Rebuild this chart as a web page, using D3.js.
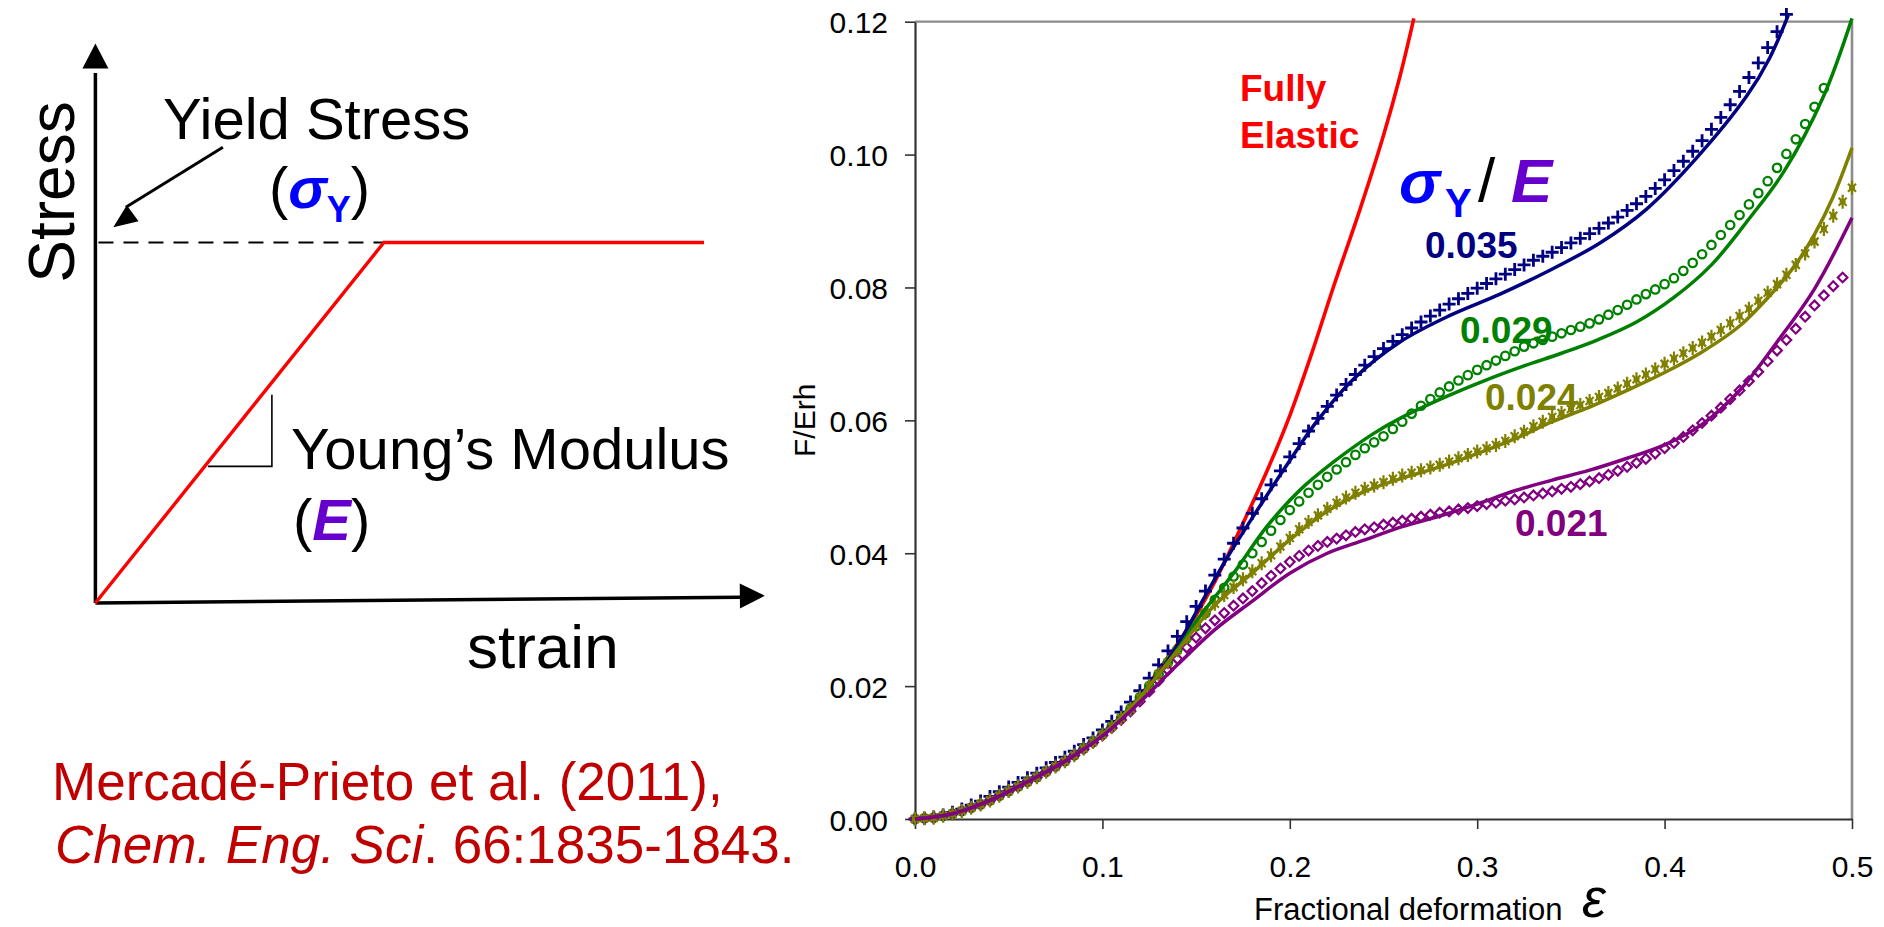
<!DOCTYPE html>
<html><head><meta charset="utf-8">
<script src="https://cdn.jsdelivr.net/npm/d3@7"></script>
<style>
body{margin:0;background:#fff;}
svg{display:block;}
text{font-family:"Liberation Sans",Arial,sans-serif;}
</style>
</head><body>
<svg id="c" width="1884" height="927"></svg>
<script>
// ---------- Right chart data ----------
const xTicks = [0, 0.1, 0.2, 0.3, 0.4, 0.5];
const yTicks = [0, 0.02, 0.04, 0.06, 0.08, 0.10, 0.12];

// strain grid for measured (marker) series
const gridStrain = [0,0.005,0.01,0.015,0.02,0.025,0.03,0.035,0.04,0.045,0.05,0.055,0.06,0.065,0.07,0.075,0.08,0.085,0.09,0.095,0.1,0.105,0.11,0.115,0.12,0.125,0.13,0.135,0.14,0.145,0.15,0.155,0.16,0.165,0.17,0.175,0.18,0.185,0.19,0.195,0.2,0.205,0.21,0.215,0.22,0.225,0.23,0.235,0.24,0.245,0.25,0.255,0.26,0.265,0.27,0.275,0.28,0.285,0.29,0.295,0.3,0.305,0.31,0.315,0.32,0.325,0.33,0.335,0.34,0.345,0.35,0.355,0.36,0.365,0.37,0.375,0.38,0.385,0.39,0.395,0.4,0.405,0.41,0.415,0.42,0.425,0.43,0.435,0.44,0.445,0.45,0.455,0.46,0.465,0.47,0.475,0.48,0.485,0.49,0.495,0.5];

// measured F/Erh (markers)
const data035 = [0,.0001,.0003,.0006,.0010,.0015,.0021,.0027,.0034,.0041,.0048,.0055,.0062,.0069,.0077,.0085,.0093,.0102,.0112,.0122,.0134,.0147,.0161,.0176,.0193,.0212,.0232,.0253,.0275,.0297,.0320,.0343,.0367,.0391,.0415,.0438,.0460,.0482,.0503,.0524,.0545,.0565,.0584,.0603,.0621,.0638,.0654,.0669,.0683,.0696,.0708,.0719,.0729,.0739,.0748,.0757,.0766,.0775,.0783,.0791,.0799,.0806,.0813,.0820,.0827,.0834,.0841,.0847,.0853,.0860,.0867,.0874,.0881,.0889,.0897,.0906,.0916,.0926,.0937,.0949,.0962,.0976,.0990,.1005,.1021,.1038,.1056,.1075,.1095,.1116,.1138,.1161,.1185,.1211];
const data029 = [0,.0001,.0002,.0005,.0008,.0012,.0017,.0022,.0028,.0035,.0042,.0049,.0056,.0063,.0071,.0079,.0087,.0096,.0106,.0116,.0127,.0139,.0152,.0166,.0183,.0200,.0218,.0236,.0255,.0272,.0290,.0310,.0330,.0348,.0365,.0383,.0400,.0417,.0434,.0450,.0465,.0478,.0491,.0503,.0515,.0526,.0537,.0548,.0558,.0567,.0576,.0587,.0598,.0610,.0622,.0632,.0642,.0651,.0660,.0668,.0676,.0683,.0690,.0697,.0704,.0711,.0716,.0721,.0726,.0731,.0736,.0741,.0746,.0752,.0759,.0766,.0774,.0782,.0790,.0797,.0805,.0814,.0825,.0837,.0850,.0864,.0879,.0894,.0909,.0925,.0942,.0960,.0980,.1001,.1023,.1046,.1072,.1100];
const data024 = [0,.0001,.0002,.0005,.0008,.0012,.0017,.0022,.0028,.0035,.0042,.0049,.0056,.0063,.0071,.0079,.0087,.0096,.0106,.0116,.0127,.0139,.0152,.0166,.0183,.0200,.0218,.0236,.0254,.0273,.0292,.0310,.0324,.0337,.0349,.0361,.0373,.0385,.0397,.0410,.0423,.0436,.0447,.0457,.0467,.0476,.0484,.0491,.0497,.0502,.0507,.0512,.0517,.0521,.0525,.0529,.0533,.0538,.0543,.0548,.0553,.0558,.0563,.0569,.0576,.0583,.0591,.0598,.0605,.0611,.0617,.0623,.0629,.0635,.0641,.0648,.0655,.0662,.0669,.0677,.0685,.0693,.0701,.0709,.0717,.0726,.0736,.0746,.0757,.0768,.0780,.0792,.0805,.0819,.0834,.0851,.0869,.0888,.0908,.0929,.0950];
const data021 = [0,.0001,.0002,.0005,.0008,.0012,.0017,.0022,.0028,.0035,.0042,.0049,.0056,.0063,.0071,.0079,.0087,.0096,.0105,.0115,.0126,.0137,.0149,.0162,.0177,.0192,.0208,.0224,.0241,.0258,.0273,.0287,.0299,.0310,.0321,.0332,.0343,.0355,.0366,.0377,.0387,.0396,.0404,.0411,.0417,.0422,.0427,.0432,.0436,.0439,.0443,.0446,.0449,.0452,.0455,.0458,.0461,.0463,.0466,.0468,.0471,.0474,.0476,.0479,.0481,.0484,.0487,.0490,.0493,.0497,.0500,.0504,.0508,.0513,.0518,.0524,.0530,.0536,.0542,.0550,.0558,.0566,.0575,.0585,.0596,.0607,.0619,.0632,.0645,.0659,.0673,.0689,.0705,.0721,.0738,.0756,.0773,.0788,.0802,.0815];

// model curves (solid lines)
const elasticX = [0,.02,.04,.06,.08,.10,.12,.13,.145,.159,.1725,.1877,.2001,.2116,.2232,.2375,.2499,.2588,.2662];
const elasticY = [0,.0008,.0028,.0056,.0087,.0127,.0185,.0224,.0284,.0352,.0430,.0523,.0608,.0700,.0800,.0918,.1028,.1118,.1205];
const model035X = [0,.02,.04,.06,.08,.10,.12,.13,.1414,.1557,.1663,.1788,.2001,.2143,.2339,.2588,.2855,.3122,.3388,.3655,.3904,.4171,.4438,.456,.466];
const model035Y = [0,.0008,.0028,.0056,.0087,.0127,.0183,.0218,.0268,.0340,.0392,.0448,.0540,.0598,.0662,.0718,.0758,.0790,.0826,.0867,.0918,.0995,.1088,.1145,.1210];
const model029X = [0,.02,.04,.06,.08,.10,.12,.13,.14,.152,.17,.1877,.2054,.2232,.2446,.2588,.2837,.305,.325,.345,.365,.385,.405,.425,.445,.4638,.4847,.50];
const model029Y = [0,.0008,.0028,.0056,.0087,.0127,.0183,.0218,.0255,.0305,.0370,.0440,.0495,.0537,.0580,.0603,.0636,.0661,.0682,.0701,.0722,.0748,.0785,.0834,.0903,.0975,.1087,.1205];
const model024X = [0,.02,.04,.06,.08,.10,.12,.13,.14,.16,.18,.20,.22,.24,.26,.28,.30,.32,.34,.36,.38,.40,.42,.44,.46,.47,.48,.49,.50];
const model024Y = [0,.0008,.0028,.0056,.0087,.0127,.0183,.0218,.0253,.0322,.0370,.0420,.0463,.0493,.0513,.0530,.0550,.0572,.0598,.0620,.0645,.0672,.0703,.0742,.0800,.0835,.0880,.0937,.1010];
const model021X = [0,.02,.04,.06,.08,.10,.12,.14,.16,.18,.20,.22,.24,.26,.28,.30,.32,.34,.36,.38,.40,.42,.44,.46,.48,.50];
const model021Y = [0,.0008,.0028,.0056,.0087,.0125,.0176,.0232,.0285,.0328,.0370,.0400,.0420,.0440,.0456,.0474,.0494,.0510,.0525,.0543,.0563,.0594,.0645,.0718,.0798,.0905];

const seriesLabels = ["0.035", "0.029", "0.024", "0.021"];
const seriesColors = ["#000080", "#008000", "#808000", "#800080"];

// ---------- Left schematic data ----------
const schematicStrain = [0, 0.474, 1.0];
const schematicStress = [0, 1, 1];

const svg = d3.select("#c");
const FONT = '"Liberation Sans", Arial, sans-serif';

// ================= LEFT SCHEMATIC =================
const sx = d3.scaleLinear([0, 1], [95.4, 704]);
const sy = d3.scaleLinear([0, 1], [603, 242.5]);
const L = svg.append("g");

function arrowHead(g, x1, y1, x2, y2, len, half, color) {
  const a = Math.atan2(y2 - y1, x2 - x1);
  const bx = x2 - len * Math.cos(a), by = y2 - len * Math.sin(a);
  const px = -Math.sin(a) * half, py = Math.cos(a) * half;
  g.append("path")
    .attr("d", `M${x2},${y2}L${bx + px},${by + py}L${bx - px},${by - py}Z`)
    .attr("fill", color);
}
// y axis arrow
L.append("line").attr("x1", sx(0)).attr("y1", sy(0)).attr("x2", sx(0)).attr("y2", sy(1.47))
  .attr("stroke", "#000").attr("stroke-width", 3.5);
arrowHead(L, sx(0), sy(0), sx(0), sy(1.552), 25, 13, "#000");
// x axis arrow (slightly rising)
L.append("line").attr("x1", sx(0)).attr("y1", sy(0)).attr("x2", sx(1.06)).attr("y2", sy(0.016))
  .attr("stroke", "#000").attr("stroke-width", 3.5);
arrowHead(L, sx(0), sy(0), sx(1.1), sy(0.02), 25, 12.5, "#000");
// dashed yield line
L.append("line").attr("x1", sx(0.005)).attr("y1", sy(1)).attr("x2", sx(schematicStrain[1])).attr("y2", sy(1))
  .attr("stroke", "#000").attr("stroke-width", 2.2).attr("stroke-dasharray", "15,10");
// elastic-plastic red line
L.append("path")
  .attr("d", d3.line().x((d, i) => sx(d)).y((d, i) => sy(schematicStress[i]))(schematicStrain))
  .attr("fill", "none").attr("stroke", "#FF0000").attr("stroke-width", 3.4);
// slope triangle
L.append("path")
  .attr("d", `M${sx(0.185)},${sy(0.379)}H${sx(0.29)}V${sy(0.578)}`)
  .attr("fill", "none").attr("stroke", "#000").attr("stroke-width", 1.6);
// arrow to yield stress
L.append("line").attr("x1", sx(0.2095)).attr("y1", sy(1.264)).attr("x2", sx(0.05)).attr("y2", sy(1.098))
  .attr("stroke", "#000").attr("stroke-width", 3);
arrowHead(L, sx(0.2095), sy(1.264), sx(0.0294), sy(1.042), 24, 10, "#000");

L.append("text").attr("transform", "translate(74,192) rotate(-90)")
  .attr("text-anchor", "middle").attr("font-size", 64).text("Stress");
L.append("text").attr("x", 163).attr("y", 139).attr("font-size", 58).text("Yield Stress");
const sig = L.append("text").attr("x", 269).attr("y", 208).attr("font-size", 58);
sig.append("tspan").text("(");
sig.append("tspan").attr("font-weight", "bold").attr("font-style", "italic").attr("fill", "#0000FF").text("σ");
sig.append("tspan").attr("font-weight", "bold").attr("fill", "#0000FF").attr("font-size", 36).attr("dy", 14).text("Y");
sig.append("tspan").attr("dy", -14).text(")");
L.append("text").attr("x", 291).attr("y", 469).attr("font-size", 58).text("Young\u2019s Modulus");
const eT = L.append("text").attr("x", 293).attr("y", 539.5).attr("font-size", 58);
eT.append("tspan").text("(");
eT.append("tspan").attr("font-weight", "bold").attr("font-style", "italic").attr("fill", "#6600CC").text("E");
eT.append("tspan").text(")");
L.append("text").attr("x", 467).attr("y", 668).attr("font-size", 62).text("strain");

const cit = svg.append("g").attr("fill", "#C00000").attr("font-size", 53);
cit.append("text").attr("x", 52).attr("y", 800).text("Mercadé-Prieto et al. (2011),");
const c2 = cit.append("text").attr("x", 55).attr("y", 863);
c2.append("tspan").attr("font-style", "italic").text("Chem. Eng. Sci");
c2.append("tspan").text(". 66:1835-1843.");

// ================= RIGHT CHART =================
const x = d3.scaleLinear([0, 0.5], [915, 1852]);
const y = d3.scaleLinear([0, 0.12], [819, 21.7]);
const R = svg.append("g");

// frame (top/right grey)
R.append("line").attr("x1", x(0)).attr("x2", x(0.5)).attr("y1", y(0.12)).attr("y2", y(0.12))
  .attr("stroke", "#8c8c8c").attr("stroke-width", 2.2);
R.append("line").attr("x1", x(0.5)).attr("x2", x(0.5)).attr("y1", y(0.12)).attr("y2", y(0))
  .attr("stroke", "#8c8c8c").attr("stroke-width", 2.6);

const yAxis = R.append("g").attr("transform", `translate(${x(0)},0)`)
  .call(d3.axisLeft(y).tickValues(yTicks).tickSize(10).tickSizeOuter(0).tickPadding(17).tickFormat(d3.format(".2f")));
const xAxis = R.append("g").attr("transform", `translate(0,${y(0)})`)
  .call(d3.axisBottom(x).tickValues(xTicks).tickSize(10).tickSizeOuter(0).tickPadding(27).tickFormat(d3.format(".1f")));
[yAxis, xAxis].forEach(g => {
  g.select(".domain").attr("stroke", "#333").attr("stroke-width", 2.2);
  g.selectAll(".tick line").attr("stroke", "#333").attr("stroke-width", 1.6);
  g.selectAll(".tick text").attr("font-family", FONT).attr("font-size", 30).attr("fill", "#000");
});
yAxis.selectAll(".tick text").attr("dy", "0.37em");

R.append("text").attr("transform", `translate(815,${y(0.06)}) rotate(-90)`)
  .attr("text-anchor", "middle").attr("font-size", 30).text("F/Erh");
R.append("text").attr("x", 1254).attr("y", 920).attr("font-size", 31).text("Fractional deformation");
R.append("text").attr("x", 1582).attr("y", 917).attr("font-size", 54)
  .attr("font-family", '"DejaVu Serif", "Liberation Serif", serif').attr("font-style", "italic").text("ε");

const line = d3.line().x(d => x(d[0])).y(d => y(d[1])).curve(d3.curveCatmullRom.alpha(0.5));
const pairs = (xs, ys) => xs.map((v, i) => [v, ys[i]]);
const gridPairs = ys => gridStrain.map((s, i) => [s, ys[i]]).filter(d => d[1] != null);

// fully elastic
R.append("path").attr("d", line(pairs(elasticX, elasticY)))
  .attr("fill", "none").attr("stroke", "#FF0000").attr("stroke-width", 3.6);

// markers
const shapes = {
  plus: "M-6.5,0H6.5M0,-6.5V6.5",
  star: "M-4,-4L4,4M4,-4L-4,4M0,-7V7M-3,0H3",
  diamond: "M0,-4.8L4.8,0L0,4.8L-4.8,0Z"
};
function drawMarkers(ys, color, kind) {
  const g = R.append("g");
  const pts = gridPairs(ys);
  if (kind === "circle") {
    g.selectAll("circle").data(pts).join("circle")
      .attr("cx", d => x(d[0])).attr("cy", d => y(d[1])).attr("r", 4.2)
      .attr("fill", "none").attr("stroke", color).attr("stroke-width", 2.3);
  } else {
    g.selectAll("path").data(pts).join("path")
      .attr("transform", d => `translate(${x(d[0])},${y(d[1])})`)
      .attr("d", shapes[kind]).attr("fill", "none").attr("stroke", color)
      .attr("stroke-width", kind === "plus" ? 2.8 : 2.2);
  }
}
drawMarkers(data035, seriesColors[0], "plus");
drawMarkers(data029, seriesColors[1], "circle");
drawMarkers(data021, seriesColors[3], "diamond");
drawMarkers(data024, seriesColors[2], "star");

const models = [[model035X, model035Y], [model029X, model029Y], [model024X, model024Y], [model021X, model021Y]];
models.forEach((m, i) => {
  R.append("path").attr("d", line(pairs(m[0], m[1])))
    .attr("fill", "none").attr("stroke", seriesColors[i]).attr("stroke-width", 3.5);
});

// annotations
const fe = R.append("g").attr("fill", "#FF0000").attr("font-weight", "bold").attr("font-size", 37);
fe.append("text").attr("x", 1240).attr("y", 100.7).text("Fully");
fe.append("text").attr("x", 1240).attr("y", 148.3).text("Elastic");

R.append("text").attr("x", 1399).attr("y", 203).attr("font-size", 62).attr("font-weight", "bold")
  .attr("font-style", "italic").attr("fill", "#0000FF").text("σ");
R.append("text").attr("x", 1445).attr("y", 216.7).attr("font-size", 40).attr("font-weight", "bold")
  .attr("fill", "#0000FF").text("Y");
R.append("text").attr("x", 1478).attr("y", 201).attr("font-size", 62).attr("fill", "#000").text("/");
R.append("text").attr("x", 1511).attr("y", 201.7).attr("font-size", 62).attr("font-weight", "bold")
  .attr("font-style", "italic").attr("fill", "#6600CC").text("E");

const labelPos = [[1425, 258.3], [1460, 343.3], [1485, 410], [1515, 536]];
seriesLabels.forEach((t, i) => {
  R.append("text").attr("x", labelPos[i][0]).attr("y", labelPos[i][1])
    .attr("font-size", 37).attr("font-weight", "bold").attr("fill", seriesColors[i]).text(t);
});
</script>
</body></html>
